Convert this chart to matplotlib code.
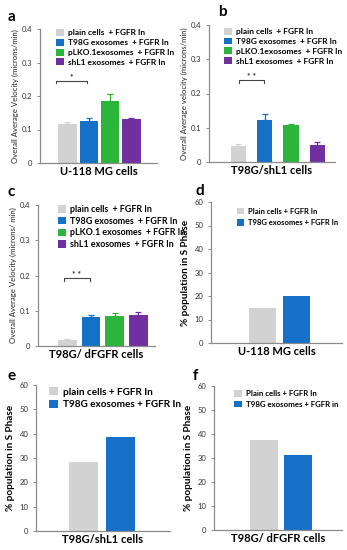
import matplotlib
matplotlib.use("Agg")
import matplotlib.pyplot as plt
from matplotlib.patches import Patch

plt.rcParams['font.family'] = ['Lato', 'DejaVu Sans']

W, H = 347, 550
GRAY, BLUE, GREEN, PURPLE = '#d2d2d2', '#1570c8', '#2bb53a', '#7030a0'
SPINE = '#8a8a8a'

# ---- data ----
legend_a = ['plain cells  + FGFR In', 'T98G exosomes  + FGFR In',
            'pLKO.1exosomes  + FGFR In', 'shL1 exosomes  + FGFR In']
legend_c = ['plain cells  + FGFR In', 'T98G exosomes  + FGFR In',
            'pLKO.1 exosomes  + FGFR In', 'shL1 exosomes  + FGFR In']
legend_d = ['Plain cells + FGFR In', 'T98G exosomes + FGFR In']
legend_e = ['plain cells + FGFR In', 'T98G exosomes + FGFR In']
legend_f = ['Plain cells + FGFR In', 'T98G exosomes + FGFR in']

vel_a = [0.117, 0.125, 0.186, 0.130]
err_a = [0.004, 0.008, 0.020, 0.005]
vel_b = [0.046, 0.123, 0.107, 0.050]
err_b = [0.007, 0.017, 0.003, 0.008]
vel_c = [0.017, 0.081, 0.085, 0.089]
err_c = [0.004, 0.008, 0.008, 0.007]
sph_d = [15.0, 19.8]
sph_e = [28.2, 38.8]
sph_f = [37.4, 31.3]

vel_ticks = [0, 0.1, 0.2, 0.3, 0.4]
vel_ticklabels = ['0', '0.1', '0.2', '0.3', '0.4']
sph_ticks = [0, 10, 20, 30, 40, 50, 60]

fig = plt.figure(figsize=(W / 100, H / 100), dpi=100)


def make_ax(left, right, top, bottom):
    return fig.add_axes([left / W, 1 - bottom / H, (right - left) / W, (bottom - top) / H])


def style(ax, ticks, labels, ymax):
    ax.set_ylim(0, ymax)
    ax.set_yticks(ticks)
    ax.set_yticklabels(labels, fontsize=5.5, color='#333333')
    ax.set_xticks([])
    for s in ['top', 'right']:
        ax.spines[s].set_visible(False)
    for s in ['left', 'bottom']:
        ax.spines[s].set_color(SPINE)
        ax.spines[s].set_linewidth(0.9)
    ax.tick_params(axis='y', length=2.5, width=0.7, color=SPINE, pad=3)


def panel(box, vals, errs, colors, width, xlim, labels, ylabel, xlabel, letter, letter_xy,
          leg_anchor, kind, leg_fs=6.0, spacing=0.3, bracket=None):
    ax = make_ax(*box)
    xs = list(range(len(vals)))
    if errs is not None:
        for x, v, e, c in zip(xs, vals, errs, colors):
            ax.bar(x, v, width=width, color=c, yerr=[[0], [e]], capsize=2.2,
                   error_kw=dict(ecolor=c, elinewidth=0.9, capthick=0.9))
    else:
        ax.bar(xs, vals, width=width, color=colors)
    ax.set_xlim(*xlim)
    if kind == 'vel':
        style(ax, vel_ticks, vel_ticklabels, 0.4)
        ax.set_ylabel(ylabel, fontsize=5.6, labelpad=2, color='#222222')
    else:
        style(ax, sph_ticks, [str(t) for t in sph_ticks], 60)
        ax.set_ylabel(ylabel, fontsize=7.2, fontweight='bold', labelpad=3)
    ax.set_xlabel(xlabel, fontsize=8, fontweight='bold', labelpad=2)
    handles = [Patch(facecolor=c, edgecolor='none') for c in colors]
    ax.legend(handles, labels, loc='upper left', bbox_to_anchor=leg_anchor,
              frameon=False, prop=dict(weight='bold', size=leg_fs),
              handlelength=0.9, handleheight=0.9, handletextpad=0.5,
              labelspacing=spacing, borderpad=0, borderaxespad=0)
    fig.text(letter_xy[0] / W, 1 - letter_xy[1] / H, letter, fontsize=11,
             fontweight='bold', ha='left', va='center')
    if bracket is not None:
        x0, x1, y, txt = bracket
        d = 0.008
        ax.plot([x0, x0, x1, x1], [y - d, y, y, y - d], color='#444444', lw=0.8)
        ax.text((x0 + x1) / 2, y, txt, ha='center', va='bottom', fontsize=6,
                fontweight='bold', color='#333333')
    return ax


four = [GRAY, BLUE, GREEN, PURPLE]
two = [GRAY, BLUE]

panel((40, 157, 29, 163), vel_a, err_a, four, 0.87, (-1.29, 4.2), legend_a,
      'Overall Average Velocity (microns/min)', 'U-118 MG cells', 'a', (8, 17),
      (0.14, 1.0), 'vel', bracket=(-0.55, 0.93, 0.246, '*'))
panel((209, 335, 25, 162), vel_b, err_b, four, 0.58, (-1.12, 3.67), legend_a,
      'Overall Average velocity (microns/min)', 'T98G/shL1 cells', 'b', (218, 12),
      (0.12, 0.98), 'vel', bracket=(0.02, 0.97, 0.239, '* *'))
panel((38, 155, 205, 346), vel_c, err_c, four, 0.78, (-1.24, 3.7), legend_c,
      'Overall Average Velocity (microns/ min)', 'T98G/ dFGFR cells', 'c', (8, 192),
      (0.17, 1.0), 'vel', leg_fs=6.4, bracket=(-0.15, 0.95, 0.193, '* *'))
panel((211, 342, 202, 343), sph_d, None, two, 0.8, (-1.54, 2.37), legend_d,
      '% population in S Phase', 'U-118 MG cells', 'd', (196, 191),
      (0.2, 0.96), 'sph', leg_fs=5.5, spacing=0.6)
panel((36, 170, 385, 531), sph_e, None, two, 0.78, (-1.28, 2.34), legend_e,
      '% population in S Phase', 'T98G/shL1 cells', 'e', (8, 376),
      (0.1, 0.985), 'sph', leg_fs=7.2, spacing=0.3)
panel((214, 342, 386, 530), sph_f, None, two, 0.82, (-1.47, 2.29), legend_f,
      '% population in S Phase', 'T98G/ dFGFR cells', 'f', (193, 376),
      (0.16, 0.97), 'sph', leg_fs=5.7, spacing=0.45)

fig.savefig('out.png', dpi=100, facecolor='white')
